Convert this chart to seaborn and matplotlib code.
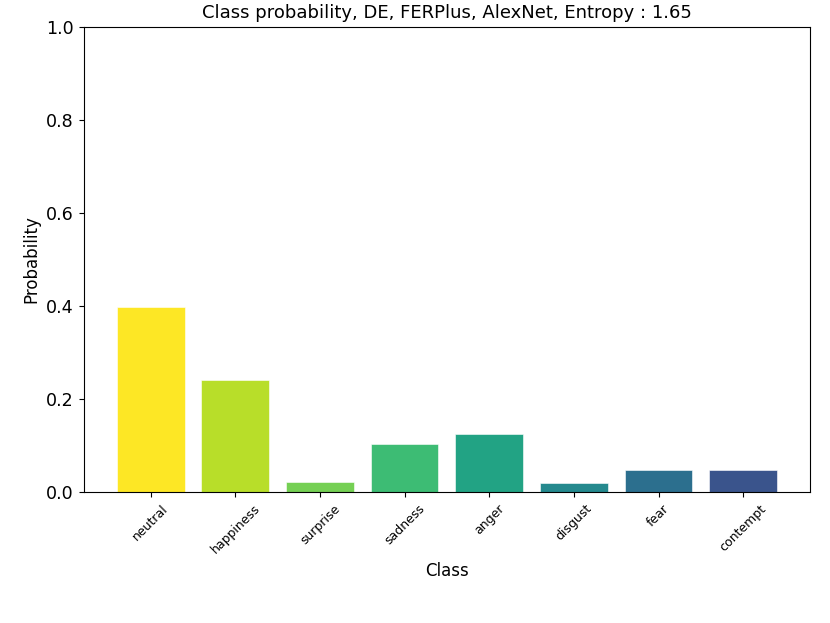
import matplotlib
matplotlib.use("Agg")
import matplotlib.pyplot as plt
import seaborn as sns

# Class probabilities
classes = ["neutral", "happiness", "surprise", "sadness", "anger", "disgust", "fear", "contempt"]
probs = [0.398, 0.240, 0.022, 0.103, 0.125, 0.019, 0.047, 0.048]
entropy = 1.65

bar_colors = ["#fde725", "#b8de29", "#75d054", "#3dbc74",
              "#22a384", "#25898e", "#2c6f8e", "#3a548c"]

fig = plt.figure(figsize=(8.3, 6.23), dpi=100)
ax = fig.add_axes([0.101, 0.21, 0.875, 0.747])

sns.barplot(x=classes, y=probs, hue=classes, palette=bar_colors,
            legend=False, saturation=1, width=0.8, ax=ax,
            edgecolor="white", linewidth=0.4)

ax.set_xlim(-0.79, 7.79)
ax.set_ylim(0, 1.0)
ax.set_yticks([0.0, 0.2, 0.4, 0.6, 0.8, 1.0])
ax.tick_params(axis="y", labelsize=12.6)
ax.tick_params(axis="x", labelsize=9, labelrotation=45)
ax.set_xlabel("Class", fontsize=12)
ax.set_ylabel("Probability", fontsize=12)
ax.set_title(f"Class probability, DE, FERPlus, AlexNet, Entropy : {entropy}", fontsize=13)

fig.savefig("out.png", dpi=100)
